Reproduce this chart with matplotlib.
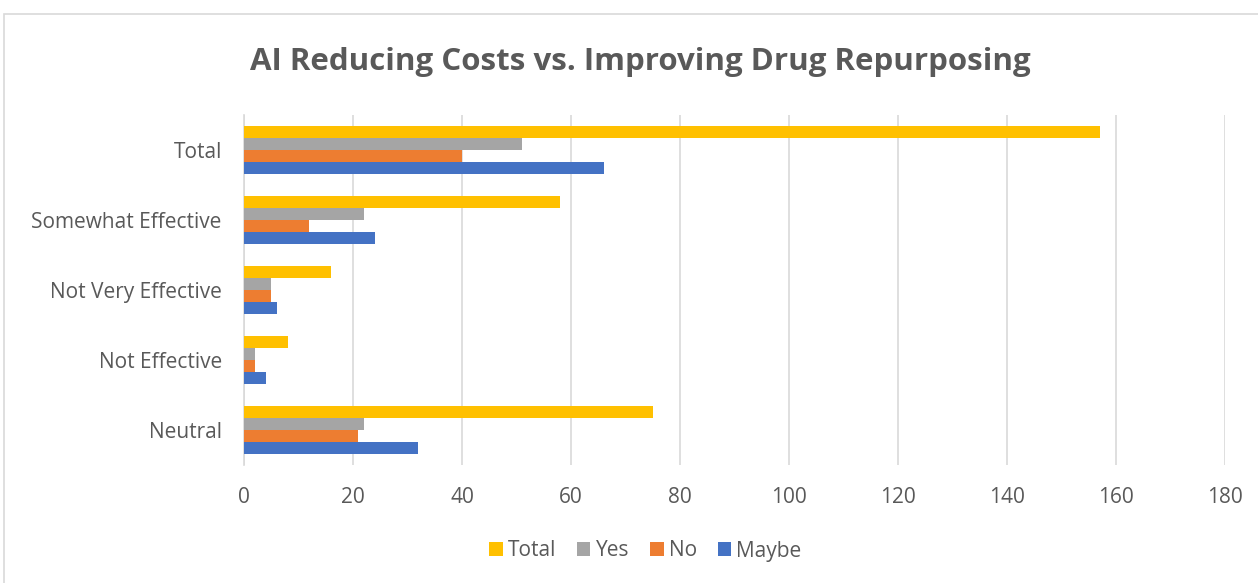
import numpy as np
import matplotlib.pyplot as plt
from matplotlib.patches import Rectangle

categories = ["Neutral", "Not Effective", "Not Very Effective", "Somewhat Effective", "Total"]
total = [75, 8, 16, 58, 157]
yes = [22, 2, 5, 22, 51]
no = [21, 2, 5, 12, 40]
maybe = [32, 4, 6, 24, 66]

series = [("Total", total, "#FFC000"), ("Yes", yes, "#A5A5A5"),
          ("No", no, "#ED7D31"), ("Maybe", maybe, "#4472C4")]

plt.rcParams["font.family"] = ["Open Sans", "DejaVu Sans"]
text_color = "#595959"

fig = plt.figure(figsize=(12.58, 5.83), dpi=100)
fig.patches.append(Rectangle((4 / 1258, -0.01), 1.1, 1 - 14 / 583 + 0.01,
                             transform=fig.transFigure, fill=False,
                             edgecolor="#D9D9D9", linewidth=1.2))
ax = fig.add_axes([244 / 1258, 1 - 465 / 583, (1225 - 244) / 1258, 350 / 583])

y = np.arange(len(categories))
h = 0.172
offsets = [1.5 * h, 0.5 * h, -0.5 * h, -1.5 * h]
handles = []
for (name, vals, color), off in zip(series, offsets):
    b = ax.barh(y + off, vals, height=h, color=color, label=name, zorder=3)
    handles.append(b)

ax.set_xlim(0, 180)
ax.set_ylim(-0.5, 4.5)
ax.set_xticks(range(0, 181, 20))
ax.set_yticks(y)
ax.set_yticklabels(categories)
ax.tick_params(axis="both", length=0, labelsize=15, colors=text_color)
ax.tick_params(axis="x", pad=16)
ax.tick_params(axis="y", pad=16)
ax.grid(axis="x", color="#D9D9D9", linewidth=1.2, zorder=0)
for s in ["top", "right", "bottom"]:
    ax.spines[s].set_visible(False)
ax.spines["left"].set_color("#D9D9D9")
ax.spines["left"].set_linewidth(1.2)

fig.text(0.509, 1 - 62 / 583, "AI Reducing Costs vs. Improving Drug Repurposing",
         ha="center", va="center", fontsize=22.5, fontweight="bold", color=text_color)

fig.legend(handles=handles, loc="center", bbox_to_anchor=(0.513, 1 - 551 / 583),
           ncol=4, frameon=False, fontsize=15, handlelength=0.65, handleheight=0.65,
           handletextpad=0.25, columnspacing=1.0, labelcolor=text_color)

fig.savefig("out.png", dpi=100)
